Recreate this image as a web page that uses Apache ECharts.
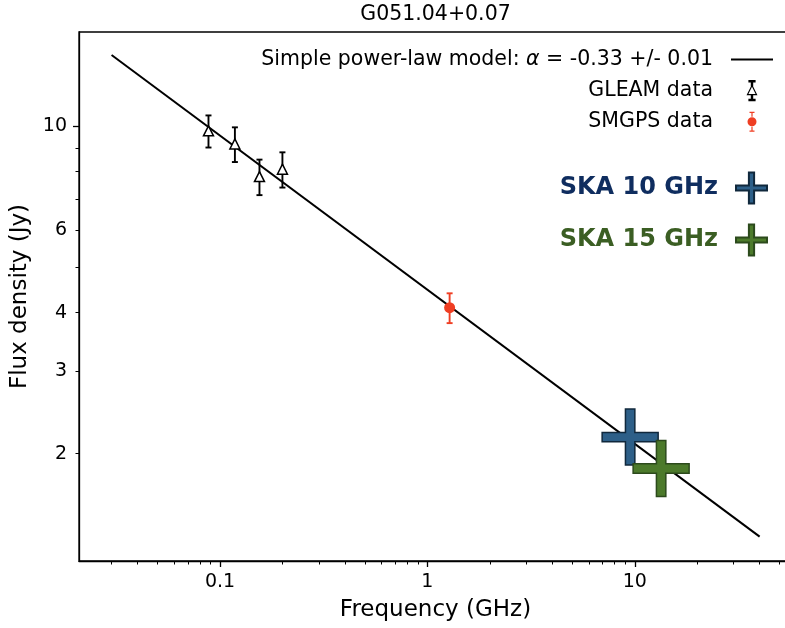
<!DOCTYPE html>
<html>
<head>
<meta charset="utf-8">
<script src="https://cdn.jsdelivr.net/npm/echarts@6/dist/echarts.min.js"></script>
<style>
html, body { margin: 0; padding: 0; background: #fff; }
#main { width: 785px; height: 628px; }
</style>
</head>
<body>
<div id="main"></div>
<script>
// GLEAM points (GHz, Jy)
const gleamFreq = [0.088, 0.118, 0.155, 0.2];
const gleamFlux = [9.78, 9.17, 7.81, 8.1];
const gleamErr = [0.77, 0.78, 0.68, 0.7];
// SMGPS point
const smgpsFreq = [1.28];
const smgpsFlux = [4.1];
const smgpsErr = [0.3];
// power-law fit end points
const modelFreq = [0.03, 40];
const modelFlux = [14.2, 1.33];
// SKA predictions
const skaNames = ['SKA 10 GHz', 'SKA 15 GHz'];
const skaFreq = [9.5, 13.4];
const skaFlux = [2.17, 1.86];
// ticks
const xTickLabels = [0.1, 1, 10];
const xMinorTicks = [0.03, 0.04, 0.05, 0.06, 0.07, 0.08, 0.09, 0.2, 0.3, 0.4, 0.5, 0.6, 0.7, 0.8, 0.9, 2, 3, 4, 5, 6, 7, 8, 9, 20, 30, 40, 50];
const yTickLabels = [2, 3, 4, 6, 10];
const yMajorTicks = [10];
const yMinorTicks = [2, 3, 4, 5, 6, 7, 8, 9];

const xMin = 0.0209, xMax = 57.3;
const yMin = 1.18, yMax = 15.9;
const mplFont = 'DejaVu Sans';
const plusPath = 'path://M23.3,0H32.7V23.3H56V32.7H32.7V56H23.3V32.7H0V23.3H23.3Z';
// legend handles (errorbar look)
const lineIcon = 'path://M0,0H42V1.8H0Z';
const gleamIcon = 'path://M2,0H8V1.2H2Z M4.4,0H5.6V5H4.4Z M5,5L9.5,14L0.5,14Z M4.4,14H5.6V20H4.4Z M2,18.8H8V20H2Z';
const smgpsIcon = 'path://M2.5,0H7.5V1.2H2.5Z M4.4,0H5.6V5H4.4Z M0.5,10A4.5,4.5 0 1,1 9.5,10A4.5,4.5 0 1,1 0.5,10Z M4.4,15H5.6V20H4.4Z M2.5,18.8H7.5V20H2.5Z';

const chart = echarts.init(document.getElementById('main'));

function errRender(color) {
    return function (params, api) {
        const x = api.value(0), y = api.value(1), e = api.value(2);
        const top = api.coord([x, y + e]);
        const bot = api.coord([x, y - e]);
        const style = { stroke: color, lineWidth: 1.9 };
        return {
            type: 'group',
            children: [
                { type: 'line', shape: { x1: top[0], y1: top[1], x2: bot[0], y2: bot[1] }, style: style },
                { type: 'line', shape: { x1: top[0] - 3, y1: top[1], x2: top[0] + 3, y2: top[1] }, style: style },
                { type: 'line', shape: { x1: bot[0] - 3, y1: bot[1], x2: bot[0] + 3, y2: bot[1] }, style: style }
            ]
        };
    };
}

const fmt = v => String(+(+v).toPrecision(3));
const axisBlack = { color: '#000', width: 1.3 };

const option = {
    animation: false,
    backgroundColor: '#fff',
    grid: {
        left: 79, top: 32, width: 713, height: 529,
        show: true, borderColor: '#000', borderWidth: 1.3,
        containLabel: false, outerBoundsMode: 'none'
    },
    graphic: [{
        type: 'text', x: 435.5, y: 15,
        style: { text: 'G051.04+0.07', align: 'center', verticalAlign: 'middle', font: '20.5px "DejaVu Sans"', fill: '#000' }
    }],
    xAxis: [{
        type: 'log', logBase: 10, min: xMin, max: xMax, position: 'bottom',
        axisLine: { show: true, lineStyle: axisBlack },
        axisTick: { show: true, length: 6, customValues: xTickLabels, lineStyle: axisBlack },
        minorTick: { show: false },
        axisLabel: { customValues: xTickLabels, formatter: fmt, margin: 12, color: '#000', fontSize: 19, fontFamily: mplFont },
        splitLine: { show: false },
        name: 'Frequency (GHz)', nameLocation: 'middle', nameGap: 38,
        nameTextStyle: { color: '#000', fontSize: 23, fontFamily: mplFont }
    }, {
        type: 'log', logBase: 10, min: xMin, max: xMax, position: 'bottom',
        axisLine: { show: false },
        axisTick: { show: true, length: 3.5, customValues: xMinorTicks, lineStyle: { color: '#000', width: 1 } },
        axisLabel: { show: false },
        splitLine: { show: false }
    }],
    yAxis: [{
        type: 'log', logBase: 10, min: yMin, max: yMax, position: 'left',
        axisLine: { show: true, lineStyle: axisBlack },
        axisTick: { show: true, length: 6, customValues: yMajorTicks, lineStyle: axisBlack },
        axisLabel: { customValues: yTickLabels, formatter: fmt, margin: 12, color: '#000', fontSize: 19, fontFamily: mplFont },
        splitLine: { show: false },
        name: 'Flux density (Jy)', nameLocation: 'middle', nameGap: 43,
        nameTextStyle: { color: '#000', fontSize: 23, fontFamily: mplFont }
    }, {
        type: 'log', logBase: 10, min: yMin, max: yMax, position: 'left',
        axisLine: { show: false },
        axisTick: { show: true, length: 3.5, customValues: yMinorTicks, lineStyle: { color: '#000', width: 1 } },
        axisLabel: { show: false },
        splitLine: { show: false }
    }],
    legend: [{
        orient: 'vertical', align: 'right', right: 12, top: 49, padding: 0,
        itemWidth: 42, itemHeight: 20, itemGap: 10, selectedMode: false,
        data: [
            { name: 'model', icon: lineIcon },
            { name: 'GLEAM data', icon: gleamIcon, itemStyle: { borderWidth: 1.2 } },
            { name: 'SMGPS data', icon: smgpsIcon }
        ],
        formatter: name => name === 'model'
            ? 'Simple power-law model: {it|α} = -0.33 +/- 0.01'
            : name,
        textStyle: {
            color: '#000', fontSize: 20.5, fontFamily: mplFont, lineHeight: 20, padding: [0, 13, 0, 0],
            rich: { it: { fontStyle: 'italic', fontSize: 20.5, fontFamily: mplFont, color: '#000', lineHeight: 20 } }
        }
    }, {
        orient: 'vertical', align: 'right', right: 17, top: 171.5, padding: 0,
        itemWidth: 31, itemHeight: 31, itemGap: 19, selectedMode: false,
        data: [
            { name: skaNames[0], textStyle: { color: '#0f2d5f' } },
            { name: skaNames[1], textStyle: { color: '#3b5e23' } }
        ],
        textStyle: { fontSize: 24, fontWeight: 'bold', fontFamily: mplFont, lineHeight: 31, padding: [0, 13, 0, 0] }
    }],
    series: [{
        name: 'model', type: 'line', symbol: 'none', z: 2,
        lineStyle: { color: '#000', width: 2 }, itemStyle: { color: '#000' },
        data: modelFreq.map((f, i) => [f, modelFlux[i]])
    }, {
        name: 'gleamErr', type: 'custom', z: 3,
        renderItem: errRender('#000'), encode: { x: 0, y: 1 },
        data: gleamFreq.map((f, i) => [f, gleamFlux[i], gleamErr[i]])
    }, {
        name: 'GLEAM data', type: 'scatter', z: 4, symbol: 'triangle', symbolSize: 10,
        itemStyle: { color: '#fff', borderColor: '#000', borderWidth: 1.5, opacity: 1 },
        data: gleamFreq.map((f, i) => [f, gleamFlux[i]])
    }, {
        name: 'smgpsErr', type: 'custom', z: 3,
        renderItem: errRender('#ef3e23'), encode: { x: 0, y: 1 },
        data: smgpsFreq.map((f, i) => [f, smgpsFlux[i], smgpsErr[i]])
    }, {
        name: 'SMGPS data', type: 'scatter', z: 4, symbol: 'circle', symbolSize: 11,
        itemStyle: { color: '#ef3e23', opacity: 1 },
        data: smgpsFreq.map((f, i) => [f, smgpsFlux[i]])
    }, {
        name: skaNames[0], type: 'scatter', z: 5, symbol: plusPath, symbolSize: 56,
        itemStyle: { color: '#2d5f88', borderColor: '#10283c', borderWidth: 1.5, opacity: 1 },
        data: [[skaFreq[0], skaFlux[0]]]
    }, {
        name: skaNames[1], type: 'scatter', z: 6, symbol: plusPath, symbolSize: 56,
        itemStyle: { color: '#4c7a2b', borderColor: '#2c4a1c', borderWidth: 1.5, opacity: 1 },
        data: [[skaFreq[1], skaFlux[1]]]
    }]
};

chart.setOption(option);
</script>
</body>
</html>
